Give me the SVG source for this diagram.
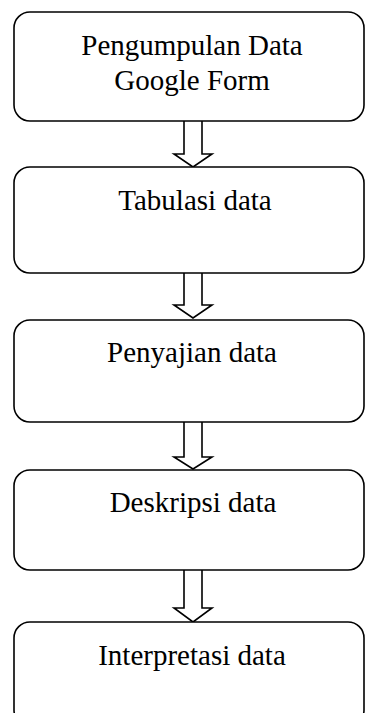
<svg xmlns="http://www.w3.org/2000/svg" width="366" height="713" viewBox="0 0 366 713">
<style>
.box{fill:#fff;stroke:#000;stroke-width:1.6}
.arr{fill:#fff;stroke:#000;stroke-width:1.6;stroke-linejoin:miter}
.t{font-family:"Liberation Serif","Times New Roman",serif;font-size:29px;fill:#000;text-anchor:middle}
</style>
<rect width="366" height="713" fill="#fff"/>
<g id="connectors">
<path class="arr" d="M184,121 V154 H174 L193,167 L212,154 H202 V121"/>
<path class="arr" d="M184,273 V305 H174 L193,318 L212,305 H202 V273"/>
<path class="arr" d="M184,422 V457 H174 L193,469 L212,457 H202 V422"/>
<path class="arr" d="M184,570 V608 H174 L193,622 L212,608 H202 V570"/>
</g>
<g id="node1">
<rect class="box" x="14" y="12" width="350" height="109" rx="16" ry="16"/>
<text class="t" x="192" y="55">Pengumpulan Data</text>
<text class="t" x="192" y="90">Google Form</text>
</g>
<g id="node2">
<rect class="box" x="14" y="167" width="350" height="106" rx="16" ry="16"/>
<text class="t" x="195" y="210">Tabulasi data</text>
</g>
<g id="node3">
<rect class="box" x="14" y="320" width="350" height="102" rx="16" ry="16"/>
<text class="t" x="192" y="362">Penyajian data</text>
</g>
<g id="node4">
<rect class="box" x="14" y="470" width="350" height="100" rx="16" ry="16"/>
<text class="t" x="193" y="512">Deskripsi data</text>
</g>
<g id="node5">
<rect class="box" x="14" y="622" width="350" height="104" rx="16" ry="16"/>
<text class="t" x="192" y="665">Interpretasi data</text>
</g>
</svg>
